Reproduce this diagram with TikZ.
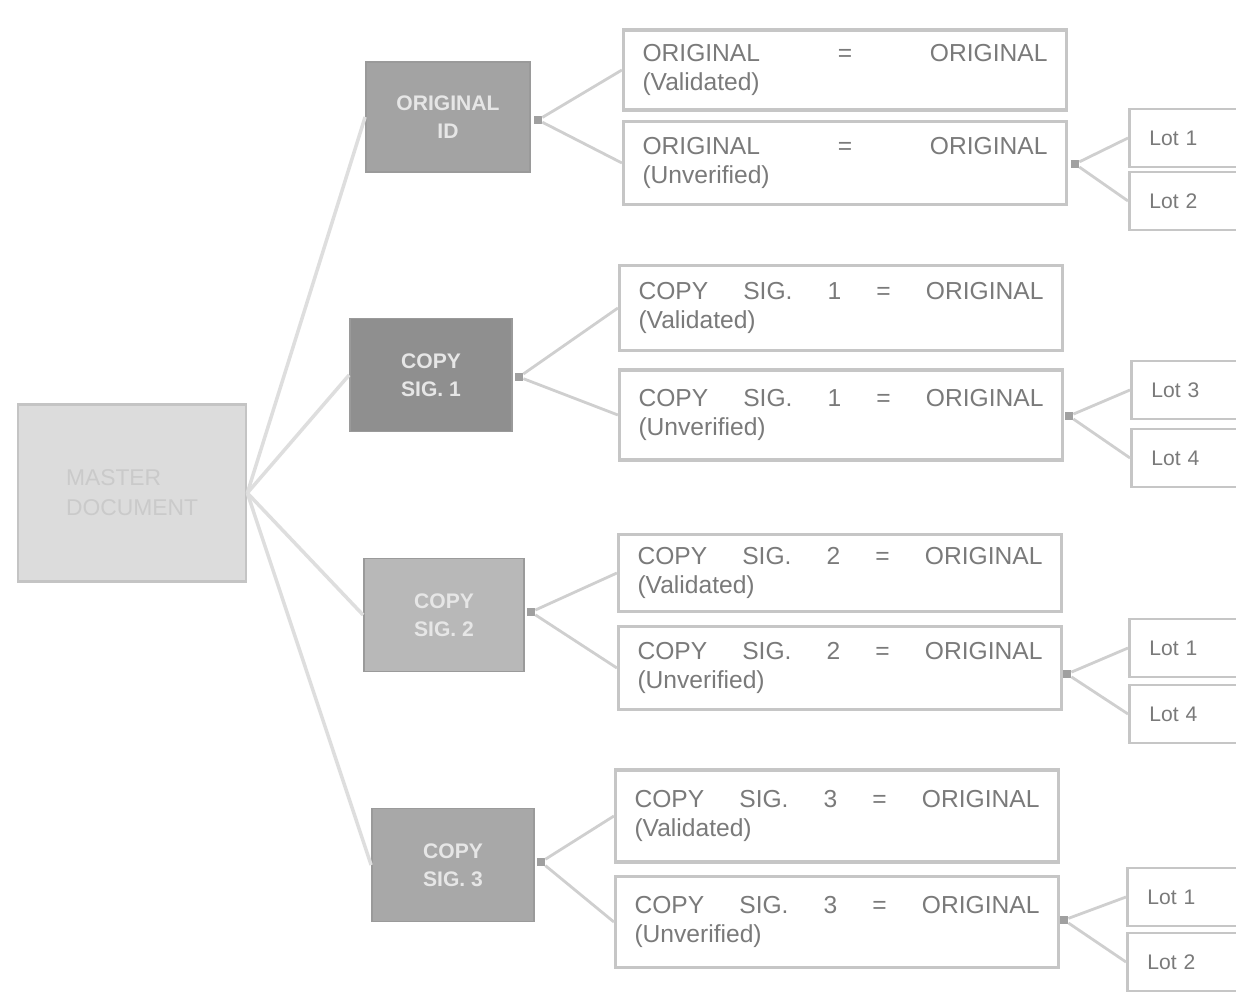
\documentclass[tikz,border=0pt]{standalone}
\usepackage{fontspec}
\setmainfont{Liberation Sans}
\setsansfont{Liberation Sans}
\usetikzlibrary{positioning}

\begin{document}
\begin{tikzpicture}[
    x=0.2mm, y=-0.2mm,
    font=\sffamily,
    rootbox/.style={draw=rootline, fill=rootfill, line width=1.5pt,
        minimum width=45.6mm, minimum height=35.4mm, align=left,
        text=roottext, font=\sffamily\fontsize{13}{17}\selectfont},
    catbox/.style={draw=catline, line width=1pt, minimum width=32.4mm,
        minimum height=22.6mm, align=center, text=cattext,
        font=\sffamily\bfseries\fontsize{12}{16}\selectfont},
    itembox/.style={draw=boxline, fill=white, line width=1.8pt,
        minimum width=88.6mm, minimum height=17mm, inner xsep=3.8mm,
        text width=81mm, align=left, text=inktext,
        font=\sffamily\fontsize{14}{17}\selectfont},
    leafbox/.style={draw=boxline, fill=white, line width=1.5pt,
        minimum height=11.6mm, inner xsep=4mm, text width=20mm,
        align=left, text=inktext, font=\sffamily\fontsize{12}{14}\selectfont},
    knot/.style={fill=knotfill, minimum size=1.6mm, inner sep=0pt},
    trunk/.style={draw=wireA, line width=2pt},
    branch/.style={draw=wireB, line width=1.6pt}
]
    % canvas 1236 x 992 px
    \useasboundingbox (0,0) rectangle (1236,992);
    \clip (0,0) rectangle (1236,992);

    % ==========================================
    % colours
    % ==========================================
    \definecolor{rootfill}{HTML}{DCDCDC}
    \definecolor{rootline}{HTML}{C4C4C4}
    \definecolor{roottext}{HTML}{CACACA}
    \definecolor{catline}{HTML}{9A9A9A}
    \definecolor{cattext}{HTML}{E6E6E6}
    \definecolor{boxline}{HTML}{C6C6C6}
    \definecolor{inktext}{HTML}{7A7A7A}
    \definecolor{knotfill}{HTML}{A0A0A0}
    \definecolor{wireA}{HTML}{DEDEDE}
    \definecolor{wireB}{HTML}{CFCFCF}

    % ==========================================
    % level 0 : document
    % ==========================================
    \node[rootbox] (doc) at (132,493) {MASTER\\DOCUMENT};

    % ==========================================
    % level 1 : signatures
    % ==========================================
    \node[catbox, fill=black!36, minimum width=32.8mm, minimum height=22mm] (orig) at (448,117) {ORIGINAL\\ID};
    \node[catbox, fill=black!44] (copyA) at (431,375) {COPY\\SIG. 1};
    \node[catbox, fill=black!28, minimum width=32mm] (copyB) at (444,615) {COPY\\SIG. 2};
    \node[catbox, fill=black!34] (copyC) at (453,865) {COPY\\SIG. 3};

    \draw[trunk] (doc.east) -- (orig.west);
    \draw[trunk] (doc.east) -- (copyA.west);
    \draw[trunk] (doc.east) -- (copyB.west);
    \draw[trunk] (doc.east) -- (copyC.west);

    % ==========================================
    % level 2 : comparisons
    % ==========================================
    \node[itembox, minimum height=16mm] (origV) at (845,70) {ORIGINAL \hfill = \hfill ORIGINAL\\(Validated)};
    \node[itembox, minimum height=16.6mm] (origU) at (845,163) {ORIGINAL \hfill = \hfill ORIGINAL\\(Unverified)};

    \node[itembox, minimum width=88.4mm] (copyAV) at (841,308) {COPY \hfill SIG. \hfill 1 \hfill = \hfill ORIGINAL\\(Validated)};
    \node[itembox, minimum width=88.4mm, minimum height=18mm] (copyAU) at (841,415) {COPY \hfill SIG. \hfill 1 \hfill = \hfill ORIGINAL\\(Unverified)};

    \node[itembox, minimum width=88mm, minimum height=15.4mm] (copyBV) at (840,573) {COPY \hfill SIG. \hfill 2 \hfill = \hfill ORIGINAL\\(Validated)};
    \node[itembox, minimum width=88mm, minimum height=16.6mm] (copyBU) at (840,668) {COPY \hfill SIG. \hfill 2 \hfill = \hfill ORIGINAL\\(Unverified)};

    \node[itembox, minimum width=88.2mm, minimum height=18.4mm] (copyCV) at (837,816) {COPY \hfill SIG. \hfill 3 \hfill = \hfill ORIGINAL\\(Validated)};
    \node[itembox, minimum width=88.2mm, minimum height=18.2mm] (copyCU) at (837,922) {COPY \hfill SIG. \hfill 3 \hfill = \hfill ORIGINAL\\(Unverified)};

    % split points
    \node[knot] (j1) at (538,120) {};
    \node[knot] (j2) at (519,377) {};
    \node[knot] (j3) at (531,612) {};
    \node[knot] (j4) at (541,862) {};

    \draw[branch] (j1) -- (origV.west);
    \draw[branch] (j1) -- (origU.west);
    \draw[branch] (j2) -- (copyAV.west);
    \draw[branch] (j2) -- (copyAU.west);
    \draw[branch] (j3) -- (copyBV.west);
    \draw[branch] (j3) -- (copyBU.west);
    \draw[branch] (j4) -- (copyCV.west);
    \draw[branch] (j4) -- (copyCU.west);

    % ==========================================
    % level 3 : lots
    % ==========================================
    \node[knot] (k1) at (1075,164) {};
    \node[knot] (k2) at (1069,416) {};
    \node[knot] (k3) at (1067,674) {};
    \node[knot] (k4) at (1064,920) {};

    \node[leafbox, anchor=west] (lot1a) at (1128,138) {Lot 1};
    \node[leafbox, anchor=west] (lot1b) at (1128,201) {Lot 2};
    \node[leafbox, anchor=west] (lot2a) at (1130,390) {Lot 3};
    \node[leafbox, anchor=west] (lot2b) at (1130,458) {Lot 4};
    \node[leafbox, anchor=west] (lot3a) at (1128,648) {Lot 1};
    \node[leafbox, anchor=west] (lot3b) at (1128,714) {Lot 4};
    \node[leafbox, anchor=west] (lot4a) at (1126,897) {Lot 1};
    \node[leafbox, anchor=west] (lot4b) at (1126,962) {Lot 2};

    \draw[branch] (k1) -- (lot1a.west);
    \draw[branch] (k1) -- (lot1b.west);
    \draw[branch] (k2) -- (lot2a.west);
    \draw[branch] (k2) -- (lot2b.west);
    \draw[branch] (k3) -- (lot3a.west);
    \draw[branch] (k3) -- (lot3b.west);
    \draw[branch] (k4) -- (lot4a.west);
    \draw[branch] (k4) -- (lot4b.west);

\end{tikzpicture}
\end{document}
